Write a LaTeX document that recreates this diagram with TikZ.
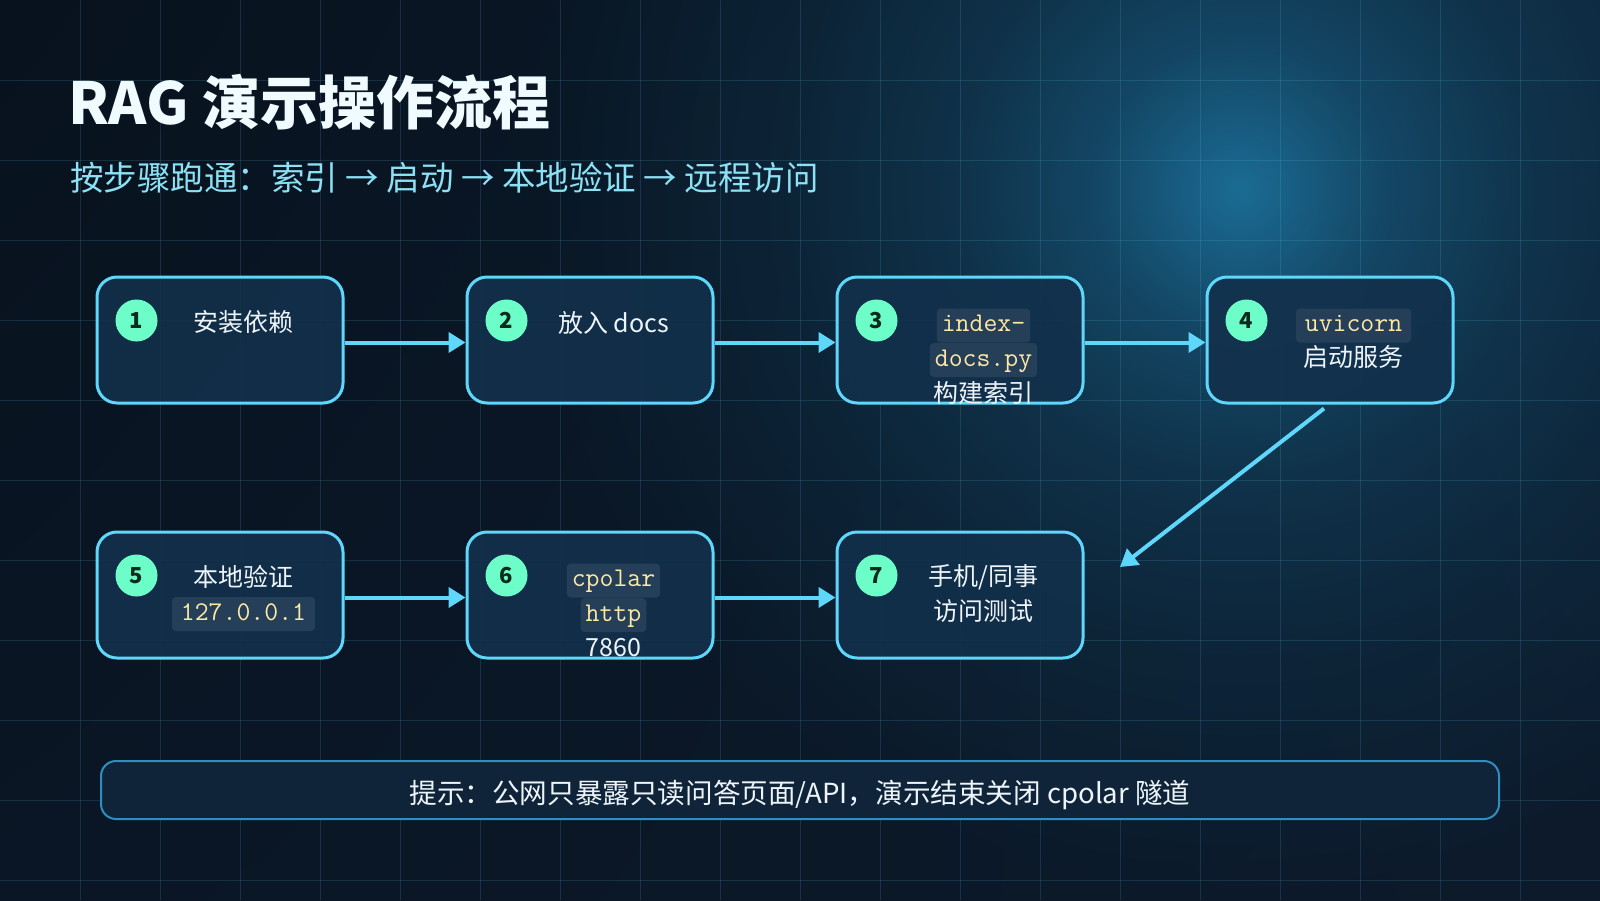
\documentclass[tikz,border=0pt]{standalone}
\usepackage{fontspec}
\setmainfont{Noto Sans CJK SC}
\usetikzlibrary{arrows.meta,calc,fadings,shadings}
\definecolor{bgtl}{HTML}{08121E}
\definecolor{bgtr}{HTML}{0B1C2E}
\definecolor{bgbl}{HTML}{0A1625}
\definecolor{bgbr}{HTML}{0C1A2B}
\definecolor{bgglow}{HTML}{1B6C95}
\definecolor{gridcyan}{HTML}{5AD4F5}
\definecolor{flowcyan}{HTML}{5ED7FB}
\definecolor{boxfill}{HTML}{12304B}
\definecolor{badgemint}{HTML}{6DFDC9}
\definecolor{badgeink}{HTML}{0B2A20}
\definecolor{chipfill}{HTML}{253F58}
\definecolor{chipink}{HTML}{FDE8A6}
\definecolor{textwhite}{HTML}{EEF5FA}
\definecolor{titlewhite}{HTML}{F0FBFF}
\definecolor{subcyan}{HTML}{8DE1F5}
\definecolor{notefill}{HTML}{0F2439}
\definecolor{noteline}{HTML}{2D8EC0}
\definecolor{fadeA}{gray}{0.55}
\definecolor{fadeB}{gray}{0.30}
\definecolor{fadeC}{gray}{0.14}
% soft glow in the upper right
\pgfdeclareradialshading{glowmask}{\pgfpoint{0bp}{0bp}}{color(0bp)=(white); color(5bp)=(fadeA); color(10bp)=(fadeB); color(16bp)=(fadeC); color(25bp)=(black); color(50bp)=(black)}
\pgfdeclarefading{glowfade}{\pgfuseshading{glowmask}}

\begin{document}
\begin{tikzpicture}[x=0.5pt, y=-0.5pt,
  stepbox/.style={draw=flowcyan, line width=1.5pt, fill=boxfill, fill opacity=0.9,
    rounded corners=10pt, minimum width=123pt, minimum height=63pt, inner sep=0pt},
  badge/.style={circle, fill=badgemint, minimum size=21pt, inner sep=0pt,
    text=badgeink, font=\bfseries\fontsize{11}{13}\selectfont},
  steptext/.style={inner sep=0pt, text=textwhite, font=\fontsize{12.5}{15}\selectfont},
  chip/.style={fill=chipfill, rounded corners=2pt, inner xsep=4.5pt, inner ysep=2.5pt,
    text height=9pt, text depth=3pt, text=chipink, font=\ttfamily\fontsize{13.5}{16}\selectfont},
  flow/.style={draw=flowcyan, line width=2pt, -{Triangle[length=8.5pt,width=10pt]}},
  notebox/.style={draw=noteline, line width=1pt, fill=notefill, rounded corners=7.5pt,
    minimum width=699pt, minimum height=29pt, inner sep=0pt},
  notetext/.style={inner sep=0pt, text=textwhite, font=\fontsize{13.8}{16}\selectfont}]
  \useasboundingbox (0,0) rectangle (1600,900);

  % ---------------- background ----------------
  \begin{scope}
    \clip (0,0) rectangle (1600,900);
    \shade[upper left=bgtl, upper right=bgtr, lower left=bgbl, lower right=bgbr]
      (0,0) rectangle (1600,900);
    \fill[bgglow, path fading=glowfade] (1240,190) circle[radius=360pt];
    \foreach \gx in {80,160,...,1520}
      \draw[gridcyan, opacity=0.15, line width=0.5pt] (\gx,0) -- (\gx,900);
    \foreach \gy in {80,160,...,880}
      \draw[gridcyan, opacity=0.15, line width=0.5pt] (0,\gy) -- (1600,\gy);
  \end{scope}

  % ---------------- heading ----------------
  \node[anchor=base west, inner sep=0pt, text=titlewhite,
    font=\bfseries\fontsize{29}{34}\selectfont] (title) at (68,124) {RAG 演示操作流程};
  \node[anchor=base west, inner sep=0pt, text=subcyan,
    font=\fontsize{16.75}{20}\selectfont] (subtitle) at (70,190.5)
    {按步骤跑通：索引 → 启动 → 本地验证 → 远程访问};

  % ---------------- steps ----------------
  \foreach \name/\cx/\cy/\num in {install/220/340/1, docs/590/340/2, index/960/340/3,
      serve/1330/340/4, local/220/595/5, tunnel/590/595/6, phone/960/595/7} {
    \node[stepbox] (\name) at (\cx,\cy) {};
    \node[badge] (n\num) at ($(\name.north west)+(41,45)$) {\num};
  }

  \node[steptext] (t1) at ($(install.north west)+(148,47)$) {安装依赖};
  \node[steptext] (t2) at ($(docs.north west)+(148,47)$) {放入 docs};
  \node[chip, inner xsep=2.5pt] (t3a) at ($(index.north west)+(148,50)$) {index-};
  \node[chip, inner xsep=2.5pt] (t3b) at ($(index.north west)+(148,84.5)$) {docs.py};
  \node[steptext] (t3c) at ($(index.north west)+(148,117)$) {构建索引};
  \node[chip] (t4a) at ($(serve.north west)+(148,50)$) {uvicorn};
  \node[steptext] (t4b) at ($(serve.north west)+(148,82)$) {启动服务};
  \node[steptext] (t5a) at ($(local.north west)+(148,46)$) {本地验证};
  \node[chip] (t5b) at ($(local.north west)+(148,83.5)$) {127.0.0.1};
  \node[chip, inner xsep=2.5pt] (t6a) at ($(tunnel.north west)+(148,50)$) {cpolar};
  \node[chip, inner xsep=2.5pt] (t6b) at ($(tunnel.north west)+(148,84.5)$) {http};
  \node[steptext] (t6c) at ($(tunnel.north west)+(148,117.5)$) {7860};
  \node[steptext] (t7a) at ($(phone.north west)+(148,47)$) {手机/同事};
  \node[steptext] (t7b) at ($(phone.north west)+(148,80.5)$) {访问测试};

  % ---------------- connectors ----------------
  \draw[flow] ([yshift=-1.25pt]install.east) -- ([yshift=-1.25pt]docs.west);
  \draw[flow] ([yshift=-1.25pt]docs.east) -- ([yshift=-1.25pt]index.west);
  \draw[flow] ([yshift=-1.25pt]index.east) -- ([yshift=-1.25pt]serve.west);
  \coordinate (drop) at (1120,567);
  \draw[flow] ($(serve.south)+(-6,4)$) -- (drop);
  \draw[flow] ([yshift=-1.25pt]local.east) -- ([yshift=-1.25pt]tunnel.west);
  \draw[flow] ([yshift=-1.25pt]tunnel.east) -- ([yshift=-1.25pt]phone.west);

  % ---------------- note ----------------
  \node[notebox] (note) at (800,790) {};
  \node[notetext] (tip) at (800,795) {提示：公网只暴露只读问答页面/API，演示结束关闭 cpolar 隧道};
\end{tikzpicture}
\end{document}
